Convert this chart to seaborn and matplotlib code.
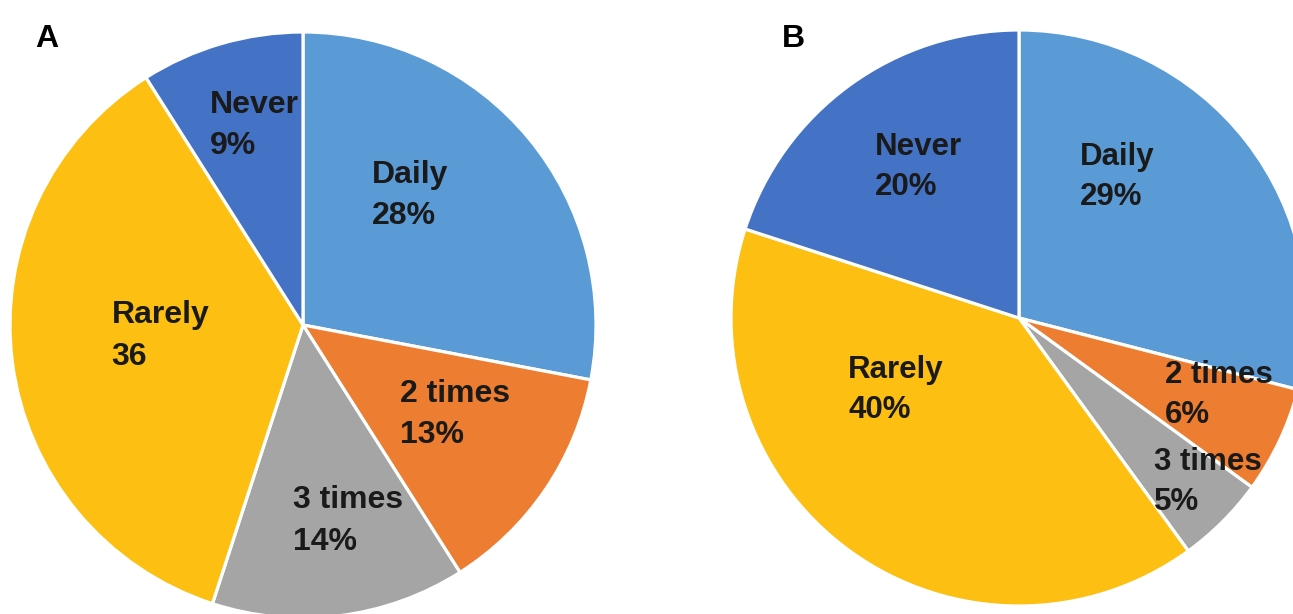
import matplotlib
matplotlib.use("Agg")
import matplotlib.pyplot as plt
import seaborn as sns

# Frequency categories, in clockwise order starting from 12 o'clock
categories = ["Daily", "2 times", "3 times", "Rarely", "Never"]

# Panel A shares (percent); the Rarely label is printed without a percent sign
values_a = [28, 13, 14, 36, 9]
suffix_a = ["%", "%", "%", "", "%"]

# Panel B shares (percent)
values_b = [29, 6, 5, 40, 20]
suffix_b = ["%", "%", "%", "%", "%"]

panel_titles = ["A", "B"]

sns.set_theme(style="white")
plt.rcParams["font.family"] = ["Liberation Sans", "DejaVu Sans"]

palette = sns.color_palette(["#5B9BD5", "#ED7D31", "#A5A5A5", "#FCBF12", "#4472C4"])

W, H = 1293, 614
fig = plt.figure(figsize=(W / 100, H / 100), dpi=100)

# Pie centre / radius in pixels (from the top-left corner of the figure)
panels = [
    dict(values=values_a, suffix=suffix_a, cx=303, cy=325, r=293, size=23,
         # left edge / first baseline of each label, in radius units from the centre
         label_pos=[(0.236, 0.485), (0.331, -0.262), (-0.033, -0.626),
                    (-0.653, 0.006), (-0.317, 0.723)],
         gap=0.141, letter_xy=(35, 47)),
    dict(values=values_b, suffix=suffix_b, cx=1019, cy=318, r=288, size=22.5,
         label_pos=[(0.212, 0.531), (0.507, -0.227), (0.469, -0.528),
                    (-0.593, -0.209), (-0.500, 0.566)],
         gap=0.139, letter_xy=(782, 47)),
]

for title, p in zip(panel_titles, panels):
    left = (p["cx"] - p["r"]) / W
    bottom = (H - (p["cy"] + p["r"])) / H
    ax = fig.add_axes([left, bottom, 2 * p["r"] / W, 2 * p["r"] / H])
    wedges, _ = ax.pie(
        p["values"],
        colors=palette,
        startangle=90,
        counterclock=False,
        radius=1.0,
        wedgeprops=dict(edgecolor="white", linewidth=2.3),
    )
    for w in wedges:
        w.set_clip_on(False)
    ax.set_xlim(-1, 1)
    ax.set_ylim(-1, 1)
    ax.set_aspect("equal")
    ax.axis("off")

    for cat, val, suf, (lx, ly) in zip(categories, p["values"], p["suffix"], p["label_pos"]):
        ax.text(lx, ly, cat, ha="left", va="baseline", fontsize=p["size"],
                fontweight="bold", color="#1a1a1a", clip_on=False)
        ax.text(lx, ly - p["gap"], f"{val}{suf}", ha="left", va="baseline",
                fontsize=p["size"], fontweight="bold", color="#1a1a1a", clip_on=False)

    fig.text(p["letter_xy"][0] / W, 1 - p["letter_xy"][1] / H, title,
             ha="left", va="baseline", fontsize=23, fontweight="bold", color="black")

fig.savefig("out.png", dpi=100, facecolor="white")
